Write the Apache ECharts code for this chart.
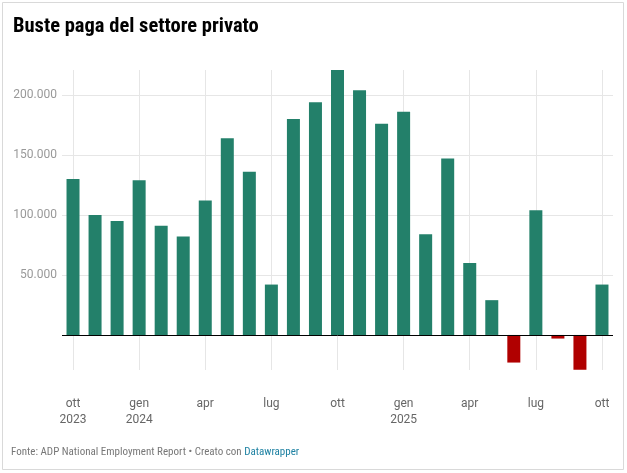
<!DOCTYPE html>
<html>
<head>
<meta charset="utf-8">
<script src="https://cdn.jsdelivr.net/npm/echarts@6/dist/echarts.min.js"></script>
<style>
html,body{margin:0;padding:0;background:#f4f4f4;}
#c{width:627px;height:473px;}
</style>
</head>
<body>
<div id="c"></div>
<script>
const months = ["ott 2023","nov 2023","dic 2023","gen 2024","feb 2024","mar 2024","apr 2024","mag 2024","giu 2024","lug 2024","ago 2024","set 2024","ott 2024","nov 2024","dic 2024","gen 2025","feb 2025","mar 2025","apr 2025","mag 2025","giu 2025","lug 2025","ago 2025","set 2025","ott 2025"];
const payrolls = [130000,100000,95000,129000,91000,82000,112000,164000,136000,42000,180000,194000,221000,204000,176000,186000,84000,147000,60000,29000,-23000,104000,-3000,-29000,42000];
const tickLabels = {"ott 2023":"ott\n2023","gen 2024":"gen\n2024","apr 2024":"apr","lug 2024":"lug","ott 2024":"ott","gen 2025":"gen\n2025","apr 2025":"apr","lug 2025":"lug","ott 2025":"ott"};
const yTicks = [50000,100000,150000,200000];

const fmt = v => String(v).replace(/\B(?=(\d{3})+(?!\d))/g, '.');
const gridColor = '#e6e6e6';
const narrow = '"Liberation Sans Narrow", "Roboto Condensed", Roboto, sans-serif';
const vLines = months.filter(m => tickLabels[m]).map(m => ({xAxis: m}));
const hLines = yTicks.map(v => ({yAxis: v}));

const chart = echarts.init(document.getElementById('c'));
chart.setOption({
  backgroundColor: '#ffffff',
  animation: false,
  title: {
    text: 'Buste paga del settore privato',
    left: 13, top: 16, padding: 0,
    textStyle: {fontFamily: narrow, fontWeight: 'bold', fontSize: 20.5, color: '#000'}
  },
  graphic: [
    {type: 'rect', shape: {x: 2.5, y: 2.5, width: 621, height: 467}, style: {fill: 'none', stroke: '#d9d9d9', lineWidth: 1}, silent: true},
    {type: 'text', left: 11, top: 447, style: {
      rich: {a: {fontFamily: narrow, fontSize: 11, fill: '#777'}, b: {fontFamily: narrow, fontSize: 11, fill: '#1d81a2'}},
      text: '{a|Fonte: ADP National Employment Report • Creato con }{b|Datawrapper}'
    }}
  ],
  grid: {left: 62, right: 14, top: 70, bottom: 103, containLabel: false},
  xAxis: {
    type: 'category',
    data: months,
    axisLine: {show: false, onZero: false},
    axisTick: {show: false},
    splitLine: {show: false},
    axisLabel: {
      interval: 0,
      margin: 26,
      fontFamily: 'Roboto', fontSize: 12, color: '#666', lineHeight: 16,
      formatter: v => tickLabels[v] || ''
    }
  },
  yAxis: {
    type: 'value',
    min: -29200, max: 220800,
    splitLine: {show: false},
    axisLine: {show: false},
    axisTick: {show: false},
    axisLabel: {
      showMinLabel: false, showMaxLabel: false,
      margin: 5,
      fontFamily: 'Roboto', fontSize: 12, color: '#999',
      formatter: v => (v > 0 && v % 50000 === 0) ? fmt(v) : ''
    }
  },
  series: [{
    type: 'bar',
    data: payrolls.map(v => ({value: v, itemStyle: {color: v < 0 ? '#b00000' : '#23806a'}})),
    barWidth: 13,
    z: 3,
    markLine: {
      silent: true, symbol: 'none', label: {show: false},
      lineStyle: {color: gridColor, type: 'solid', width: 1},
      z: 1,
      data: vLines.concat(hLines)
    }
  }, {
    type: 'line', data: [],
    markLine: {
      silent: true, symbol: 'none', label: {show: false},
      lineStyle: {color: '#000', type: 'solid', width: 1},
      z: 5,
      data: [{yAxis: 0}]
    }
  }]
});
</script>
</body>
</html>
